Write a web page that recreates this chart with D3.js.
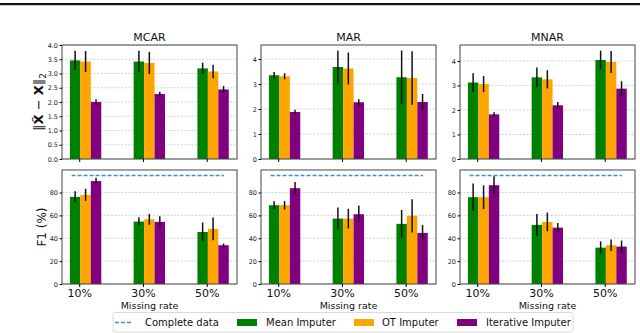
<!DOCTYPE html>
<html><head><meta charset="utf-8">
<script src="https://cdn.jsdelivr.net/npm/d3@7"></script>
<style>body{margin:0;background:#fff;}svg{display:block;font-family:"DejaVu Sans",sans-serif;}</style>
</head><body><svg id="c" width="640" height="333"></svg>
<script>
const mechanisms = ["MCAR", "MAR", "MNAR"];
const rates = ["10%", "30%", "50%"];
const methods = ["Mean Imputer", "OT Imputer", "Iterative Imputer"];
const colors = ["#008000", "#ffa500", "#800080"];
const completeF1 = 94.9;

// reconstruction error [mechanism][method][rate]
const errMean = [
  [[3.46, 3.42, 3.18], [3.42, 3.37, 3.07], [2.00, 2.28, 2.44]],
  [[3.35, 3.68, 3.27], [3.31, 3.62, 3.24], [1.88, 2.27, 2.28]],
  [[3.12, 3.33, 4.04], [3.06, 3.25, 3.96], [1.82, 2.19, 2.87]]
];
const errStd = [
  [[0.34, 0.38, 0.20], [0.37, 0.39, 0.24], [0.10, 0.08, 0.12]],
  [[0.13, 0.65, 1.07], [0.12, 0.64, 1.07], [0.09, 0.12, 0.32]],
  [[0.38, 0.40, 0.38], [0.33, 0.37, 0.45], [0.09, 0.13, 0.30]]
];
// F1 (%) [mechanism][method][rate]
const f1Mean = [
  [[76.2, 54.6, 45.5], [78.0, 56.6, 48.2], [90.0, 54.3, 33.9]],
  [[68.9, 57.2, 52.6], [68.9, 57.2, 59.6], [83.8, 61.0, 44.7]],
  [[75.9, 51.7, 31.8], [75.9, 54.3, 33.9], [86.4, 49.3, 32.7]]
];
const f1Std = [
  [[5.0, 3.7, 8.3], [5.3, 4.8, 10.0], [3.0, 5.0, 1.5]],
  [[3.5, 9.6, 12.1], [3.7, 8.6, 14.6], [5.4, 7.6, 7.0]],
  [[12.0, 9.5, 5.4], [10.4, 8.2, 5.0], [7.9, 4.1, 5.3]]
];
const errMax = [4.0, 4.56, 4.65];
const errTicks = [[0,0.5,1,1.5,2,2.5,3,3.5,4],[0,1,2,3,4],[0,1,2,3,4]];
const f1Ticks = [0, 20, 40, 60, 80];

const svg = d3.select("#c");
// top rule of the page
svg.append("rect").attr("x",0).attr("y",3).attr("width",640).attr("height",2.2).attr("fill","#111");

const panelX = [62, 261, 460], panelW = 175;
const rows = [{top:45, bot:159}, {top:170, bot:284}];
const barOff = [-0.146, 0.018, 0.182], barW = 0.164;

mechanisms.forEach((mech, mi) => {
  const x = d3.scaleLinear().domain([-0.27, 2.475]).range([panelX[mi], panelX[mi] + panelW]);
  [0, 1].forEach(ri => {
    const r = rows[ri];
    const y = d3.scaleLinear().domain(ri === 0 ? [0, errMax[mi]] : [0, 99.7]).range([r.bot, r.top]);
    const ticks = ri === 0 ? errTicks[mi] : f1Ticks;
    const g = svg.append("g");
    // grid
    g.selectAll("line.grid").data(ticks).join("line")
      .attr("x1", panelX[mi]).attr("x2", panelX[mi] + panelW)
      .attr("y1", d => y(d)).attr("y2", d => y(d))
      .attr("stroke", "#c8c8c8").attr("stroke-width", 0.8).attr("stroke-dasharray", "2,1.5");
    const means = ri === 0 ? errMean[mi] : f1Mean[mi];
    const stds = ri === 0 ? errStd[mi] : f1Std[mi];
    if (ri === 1) {
      g.append("line").attr("x1", x(-0.12)).attr("x2", x(2.27))
        .attr("y1", y(completeF1)).attr("y2", y(completeF1))
        .attr("stroke", "#3a8fd0").attr("stroke-width", 1.6).attr("stroke-dasharray", "4,2");
    }
    methods.forEach((m, k) => {
      rates.forEach((rt, j) => {
        const x0 = x(j + barOff[k]), x1 = x(j + barOff[k] + barW);
        g.append("rect").attr("x", x0).attr("width", x1 - x0)
          .attr("y", y(means[k][j])).attr("height", y(0) - y(means[k][j]))
          .attr("fill", colors[k]);
        const cx = (x0 + x1) / 2;
        g.append("line").attr("x1", cx).attr("x2", cx)
          .attr("y1", y(means[k][j] + stds[k][j])).attr("y2", y(means[k][j] - stds[k][j]))
          .attr("stroke", "#111").attr("stroke-width", 1.5);
      });
    });
    // frame
    g.append("rect").attr("x", panelX[mi]).attr("y", r.top).attr("width", panelW).attr("height", r.bot - r.top)
      .attr("fill", "none").attr("stroke", "#444").attr("stroke-width", 1);
    // y axis
    const ya = d3.axisLeft(y).tickValues(ticks).tickSize(2.5).tickPadding(1.5)
      .tickFormat(ri === 0 && mi === 0 ? d3.format(".1f") : d3.format("d"));
    const yg = svg.append("g").attr("transform", `translate(${panelX[mi]},0)`).call(ya);
    yg.select(".domain").remove();
    yg.selectAll("text").attr("font-size", 6.5).attr("fill", "#222").attr("font-family", "DejaVu Sans");
    // x axis
    const xa = d3.axisBottom(x).tickValues([0, 1, 2]).tickSize(3).tickPadding(2)
      .tickFormat(ri === 0 ? "" : (d => rates[d]));
    const xg = svg.append("g").attr("transform", `translate(0,${r.bot})`).call(xa);
    xg.select(".domain").remove();
    xg.selectAll("text").attr("font-size", 11).attr("fill", "#111").attr("font-family", "DejaVu Sans");
  });
  svg.append("text").attr("x", panelX[mi] + panelW / 2).attr("y", 41).attr("text-anchor", "middle")
    .attr("font-size", 11).attr("fill", "#111").text(mech);
  svg.append("text").attr("x", panelX[mi] + panelW / 2).attr("y", 308.5).attr("text-anchor", "middle")
    .attr("font-size", 9.5).attr("fill", "#111").text("Missing rate");
});

// y labels
const yl1 = svg.append("text").attr("transform", "translate(43,102) rotate(-90)").attr("text-anchor", "middle")
  .attr("font-size", 13).attr("fill", "#111");
yl1.append("tspan").text("‖");
yl1.append("tspan").attr("font-weight", "bold").text("X̂");
yl1.append("tspan").text(" − ");
yl1.append("tspan").attr("font-weight", "bold").text("X");
yl1.append("tspan").text("‖");
yl1.append("tspan").attr("font-size", 9).attr("dy", 3).text("2");
svg.append("text").attr("transform", "translate(46,227) rotate(-90)").attr("text-anchor", "middle")
  .attr("font-size", 12).attr("fill", "#111").text("F1 (%)");

// legend
const lg = svg.append("g");
lg.append("rect").attr("x", 113).attr("y", 312.5).attr("width", 460).attr("height", 19.5).attr("rx", 2)
  .attr("fill", "#fff").attr("stroke", "#d0d0d0").attr("stroke-width", 0.8);
const ly = 322.5;
lg.append("line").attr("x1", 115).attr("x2", 132).attr("y1", ly).attr("y2", ly)
  .attr("stroke", "#3a8fd0").attr("stroke-width", 1.5).attr("stroke-dasharray", "4,2");
lg.append("text").attr("x", 145).attr("y", ly + 3.5).attr("font-size", 10).attr("fill", "#111").text("Complete data");
const patchX = [237, 354, 457], textX = [266, 382, 486];
methods.forEach((m, k) => {
  lg.append("rect").attr("x", patchX[k]).attr("y", ly - 3.5).attr("width", 20).attr("height", 7).attr("fill", colors[k]);
  lg.append("text").attr("x", textX[k]).attr("y", ly + 3.5).attr("font-size", 10).attr("fill", "#111").text(m);
});
</script></body></html>
